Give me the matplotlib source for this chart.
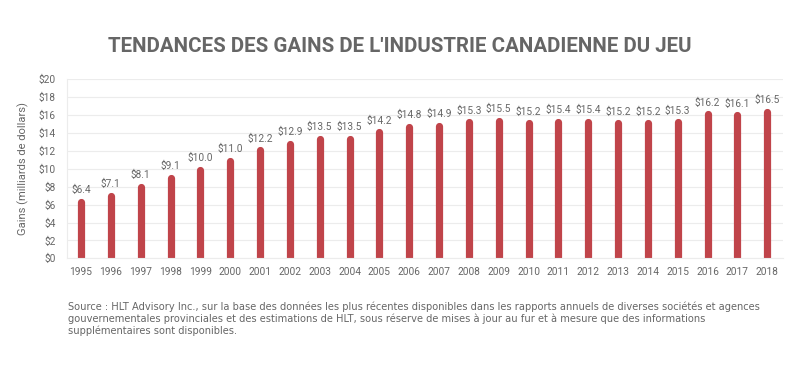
import numpy as np
import matplotlib.pyplot as plt

plt.rcParams['font.family'] = ['Roboto', 'DejaVu Sans']

years = [str(y) for y in range(1995, 2019)]
gains = [6.4, 7.1, 8.1, 9.1, 10.0, 11.0, 12.2, 12.9, 13.5, 13.5, 14.2, 14.8,
         14.9, 15.3, 15.5, 15.2, 15.4, 15.4, 15.2, 15.2, 15.3, 16.2, 16.1, 16.5]
y_ticks = list(range(0, 22, 2))

title = "TENDANCES DES GAINS DE L'INDUSTRIE CANADIENNE DU JEU"
source = ("Source : HLT Advisory Inc., sur la base des données les plus récentes disponibles dans les rapports annuels de diverses sociétés et agences\n"
          "gouvernementales provinciales et des estimations de HLT, sous réserve de mises à jour au fur et à mesure que des informations\n"
          "supplémentaires sont disponibles.")

bar_color = '#c0444a'
text_gray = '#666666'

fig = plt.figure(figsize=(7.99, 3.69), dpi=100)
ax = fig.add_axes([67 / 799, 1 - 258.3 / 369, (783 - 67) / 799, (258.3 - 79.3) / 369])

x = np.arange(len(years))
ax.vlines(x, 0.12, np.array(gains) - 0.12, colors=bar_color, linewidth=5.2, capstyle='round')
for xi, g in zip(x, gains):
    ax.annotate(f"${g:.1f}", (xi, g), xytext=(0, 4), textcoords='offset points',
                ha='center', va='bottom', fontsize=7.3, color=text_gray)

ax.set_xlim(-0.47, len(years) - 0.47)
ax.set_ylim(0, 20)
ax.set_yticks(y_ticks)
ax.set_yticklabels([f"${t}" for t in y_ticks])
ax.set_xticks(x)
ax.set_xticklabels(years)
ax.tick_params(axis='both', length=0, labelsize=7.3, labelcolor=text_gray)
ax.tick_params(axis='x', pad=6)
ax.tick_params(axis='y', pad=8)
ax.grid(axis='y', color='#ececec', linewidth=0.8)
ax.set_axisbelow(True)
for side in ['top', 'right']:
    ax.spines[side].set_visible(False)
ax.spines['left'].set_color('#ececec')
ax.spines['bottom'].set_color('#ececec')
ax.set_ylabel('Gains (milliards de dollars)', fontsize=8, color=text_gray, labelpad=7)

fig.text(0.5, 1 - 47 / 369, title, ha='center', va='center', fontsize=14.75,
         fontweight='bold', color=text_gray)
fig.text(68 / 799, 1 - 301 / 369, source, ha='left', va='top', fontsize=7.15,
         family='DejaVu Sans', color=text_gray, linespacing=1.22)

fig.savefig('out.png', dpi=100, facecolor='white')
